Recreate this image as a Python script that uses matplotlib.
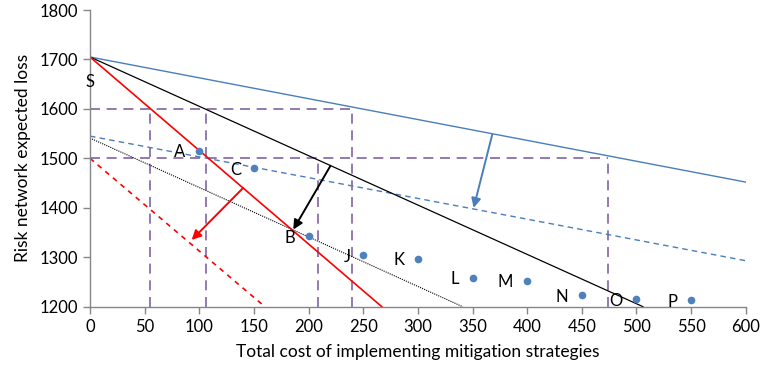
import matplotlib.pyplot as plt
import numpy as np

# Mitigation strategy points (cost, expected loss)
point_labels = ['A', 'C', 'B', 'J', 'K', 'L', 'M', 'N', 'O', 'P']
point_cost = [100, 150, 200, 250, 300, 350, 400, 450, 500, 550]
point_loss = [1515, 1480, 1342, 1305, 1297, 1259, 1251, 1224, 1216, 1213]
# label anchor positions (left of each point)
label_x = [82, 133, 183, 235, 283, 334, 380, 432, 481, 533]
label_y = [1513, 1476, 1338, 1301, 1294, 1257, 1249, 1220, 1212, 1210]

# budget / iso-risk lines, given by two end points
blue_solid_x = [0, 600]
blue_solid_y = [1705, 1452]
blue_dash_x = [0, 600]
blue_dash_y = [1545, 1293]
black_solid_x = [0, 506]
black_solid_y = [1705, 1200]
black_dot_x = [0, 341]
black_dot_y = [1541, 1200]
red_solid_x = [0, 267]
red_solid_y = [1705, 1200]
red_dash_x = [0, 160]
red_dash_y = [1500, 1200]

# purple guide lines
h_guides = [(1600, 240), (1500, 474)]
v_guides = [(55, 1600), (106, 1600), (209, 1500), (240, 1600), (474, 1500)]

# arrows (start -> end)
arrows = [((368, 1548), (351, 1400), '#4A7EBB'),
          ((220, 1485), (186, 1356), 'black'),
          ((140, 1440), (93, 1335), '#FF0000')]

plt.rcParams['font.family'] = ['Lato', 'DejaVu Sans']

fig = plt.figure(figsize=(7.61, 3.78), dpi=100)
ax = fig.add_axes([0.1183, 0.1886, 0.8617, 0.7849])

purple = '#8064A2'
for yv, xe in h_guides:
    ax.plot([0, xe], [yv, yv], color=purple, lw=1.2, ls=(0, (6, 4)))
for xv, ye in v_guides:
    ax.plot([xv, xv], [1200, ye], color=purple, lw=1.2, ls=(0, (6, 4)))

ax.plot(blue_solid_x, blue_solid_y, color='#4A7EBB', lw=1.0)
ax.plot(blue_dash_x, blue_dash_y, color='#4A7EBB', lw=1.0, ls=(0, (4, 3)))
ax.plot(black_solid_x, black_solid_y, color='black', lw=0.9)
ax.plot(black_dot_x, black_dot_y, color='black', lw=0.8, ls=(0, (1, 1)))
ax.plot(red_solid_x, red_solid_y, color='#FF0000', lw=1.2)
ax.plot(red_dash_x, red_dash_y, color='#FF0000', lw=1.2, ls=(0, (3, 3)))

ax.plot(point_cost, point_loss, 'o', color='#4F81BD', ms=4.5, zorder=5)
for lab, lx, ly in zip(point_labels, label_x, label_y):
    ax.text(lx, ly, lab, ha='center', va='center', fontsize=12)
ax.text(0, 1655, 'S', ha='center', va='center', fontsize=12)

for (x0, y0), (x1, y1), c in arrows:
    ax.annotate('', xy=(x1, y1), xytext=(x0, y0),
                arrowprops=dict(arrowstyle='-|>', color=c, lw=1.4,
                                mutation_scale=14, shrinkA=0, shrinkB=0))

ax.set_xlim(0, 600)
ax.set_ylim(1200, 1800)
ax.set_xticks(np.arange(0, 601, 50))
ax.set_yticks(np.arange(1200, 1801, 100))
ax.tick_params(labelsize=12, color='#868686', length=5, width=1)
for s in ['top', 'right']:
    ax.spines[s].set_visible(False)
for s in ['left', 'bottom']:
    ax.spines[s].set_color('#868686')
    ax.spines[s].set_linewidth(1)

ax.set_xlabel('Total cost of implementing mitigation strategies', fontsize=12.5, labelpad=7)
ax.set_ylabel('Risk network expected loss', fontsize=12.5, labelpad=6)

plt.savefig('out.png', dpi=100)
